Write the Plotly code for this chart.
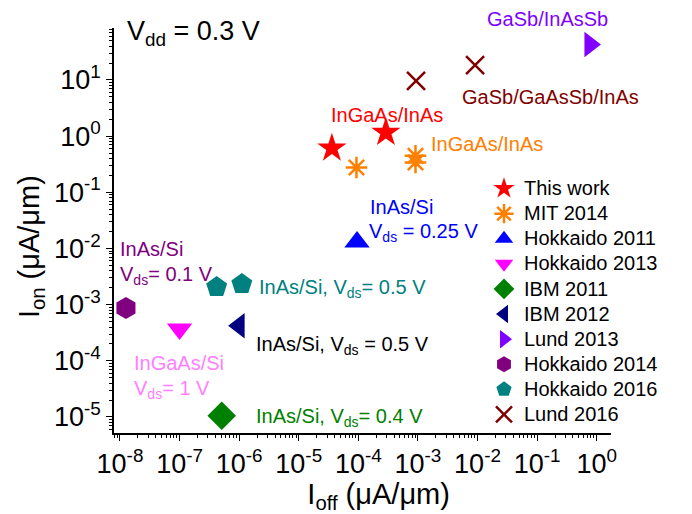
import plotly.graph_objects as go

# ---------------- data ----------------
series_names = ["This work", "MIT 2014", "Hokkaido 2011", "Hokkaido 2013", "IBM 2011",
                "IBM 2012", "Lund 2013", "Hokkaido 2014", "Hokkaido 2016", "Lund 2016"]

ioff_this_work = [3.6e-5, 2.9e-4]
ion_this_work = [0.61, 1.16]
ioff_mit_2014 = [9.3e-5, 9.1e-4, 9.1e-4]
ion_mit_2014 = [0.277, 0.447, 0.34]
ioff_hokkaido_2011 = [9.5e-5]
ion_hokkaido_2011 = [0.013]
ioff_hokkaido_2013 = [1.0e-7]
ion_hokkaido_2013 = [3.7e-4]
ioff_ibm_2011 = [5.1e-7]
ion_ibm_2011 = [1.05e-5]
ioff_ibm_2012 = [1.0e-6]
ion_ibm_2012 = [4.2e-4]
ioff_lund_2013 = [0.77]
ion_lund_2013 = [42.8]
ioff_hokkaido_2014 = [1.26e-8]
ion_hokkaido_2014 = [8.7e-4]
ioff_hokkaido_2016 = [4.2e-7, 1.11e-6]
ion_hokkaido_2016 = [2.06e-3, 2.33e-3]
ioff_lund_2016 = [9.3e-4, 9.1e-3]
ion_lund_2016 = [9.6, 18.3]

x_tick_vals = [1e-8, 1e-7, 1e-6, 1e-5, 1e-4, 1e-3, 1e-2, 1e-1, 1e0]
x_tick_text = ["10<sup>-8</sup>", "10<sup>-7</sup>", "10<sup>-6</sup>", "10<sup>-5</sup>",
               "10<sup>-4</sup>", "10<sup>-3</sup>", "10<sup>-2</sup>", "10<sup>-1</sup>", "10<sup>0</sup>"]
y_tick_vals = [1e-5, 1e-4, 1e-3, 1e-2, 1e-1, 1e0, 1e1]
y_tick_text = ["10<sup>-5</sup>", "10<sup>-4</sup>", "10<sup>-3</sup>", "10<sup>-2</sup>",
               "10<sup>-1</sup>", "10<sup>0</sup>", "10<sup>1</sup>"]

label_texts = ["V<sub>dd</sub> = 0.3 V", "InGaAs/InAs", "InGaAs/InAs", "GaSb/GaAsSb/InAs",
               "GaSb/InAsSb", "InAs/Si", "V<sub>ds</sub> = 0.25 V", "InAs/Si", "V<sub>ds</sub>= 0.1 V",
               "InAs/Si, V<sub>ds</sub>= 0.5 V", "InAs/Si, V<sub>ds</sub> = 0.5 V", "InGaAs/Si",
               "V<sub>ds</sub>= 1 V", "InAs/Si, V<sub>ds</sub>= 0.4 V"]

x_title = "I<sub>off</sub> (μA/μm)"
y_title = "I<sub>on</sub> (μA/μm)"

# ---------------- styling ----------------
FONT = "Arial, Liberation Sans, sans-serif"
OFF = 8                      # default body margin of the html page
W, H = 692 - OFF, 514 - OFF  # figure size so that it fits the window exactly
# plot area in window (screen) pixels
L, R, T, B = 114, 611, 28, 433
NB = "\u00a0"
ZW = "\u200b"


def px(x):
    return (x - L) / (R - L)


def py(y):
    return (B - y) / (B - T)


xs = [ioff_this_work, ioff_mit_2014, ioff_hokkaido_2011, ioff_hokkaido_2013, ioff_ibm_2011,
      ioff_ibm_2012, ioff_lund_2013, ioff_hokkaido_2014, ioff_hokkaido_2016, ioff_lund_2016]
ys = [ion_this_work, ion_mit_2014, ion_hokkaido_2011, ion_hokkaido_2013, ion_ibm_2011,
      ion_ibm_2012, ion_lund_2013, ion_hokkaido_2014, ion_hokkaido_2016, ion_lund_2016]
symbols = ["star", "asterisk-open", "triangle-up", "triangle-down", "diamond",
           "triangle-left", "triangle-right", "hexagon", "pentagon", "x-thin-open"]
colors = ["#ff0000", "#ff8000", "#0000ff", "#ff00ff", "#008000",
          "#000080", "#8000ff", "#800080", "#008080", "#800000"]
sizes = [22, 18, 22, 22, 22, 22, 22, 22, 22, 18]

fig = go.Figure()
for name, x, y, sym, col, sz in zip(series_names, xs, ys, symbols, colors, sizes):
    open_sym = sym.endswith("open")
    fig.add_trace(go.Scatter(
        x=x, y=y, mode="markers",
        name='<span style="font-size:20px">' + name + "</span>",
        marker=dict(symbol=sym, size=sz, color=col,
                    line=dict(color=col, width=2.5 if open_sym else 0)),
    ))

label_pos = [(126, 33, 27), (330, 115, 20), (430, 144, 20), (461, 97, 20), (486, 19, 20),
             (369, 207, 20), (368, 232, 20), (119, 249, 20), (119, 275, 20), (258, 288, 20),
             (255, 345, 20), (133, 363, 20), (133, 389, 20), (255, 417, 20)]
label_colors = ["#000000", "#ff0000", "#ff8000", "#800000", "#8000ff", "#0000ff", "#0000ff",
                "#800080", "#800080", "#008080", "#000000", "#ff80ff", "#ff80ff", "#008000"]

annotations = []
for txt, (ax, ay, fs), col in zip(label_texts, label_pos, label_colors):
    annotations.append(dict(x=px(ax), y=py(ay), xref="paper", yref="paper",
                            xanchor="left", yanchor="middle", showarrow=False, borderpad=0,
                            text=txt, font=dict(family=FONT, size=fs, color=col)))

x_minor = [k * 10.0 ** e for e in range(-9, 1) for k in range(2, 10)]
y_minor = [k * 10.0 ** e for e in range(-6, 2) for k in range(2, 10)]

axis_common = dict(
    type="log", showgrid=False, zeroline=False, showline=True, linecolor="#000000",
    linewidth=1.5, ticks="outside", ticklen=6, tickwidth=1.3, tickcolor="#000000",
    tickfont=dict(family=FONT, size=27, color="black"), automargin=False,
)

fig.update_layout(
    width=W, height=H,
    margin=dict(l=L - OFF, r=W - (R - OFF), t=T - OFF, b=H - (B - OFF), pad=0, autoexpand=False),
    paper_bgcolor="white", plot_bgcolor="white",
    font=dict(family=FONT, color="black"),
    showlegend=True,
    legend=dict(x=px(484), y=py(171), xanchor="left", yanchor="top",
                font=dict(family=FONT, size=17, color="black"),
                bgcolor="rgba(0,0,0,0)", borderwidth=0, itemsizing="trace"),
    xaxis=dict(axis_common, range=[-8.10, 0.24], tickvals=x_tick_vals, ticktext=x_tick_text,
               minor=dict(tickvals=x_minor, ticks="outside", ticklen=3.5, tickwidth=1,
                          tickcolor="black", showgrid=False),
               title=dict(text=ZW + NB * 4 + x_title, font=dict(family=FONT, size=29),
                          standoff=4)),
    yaxis=dict(axis_common, range=[-5.285, 1.925], tickvals=y_tick_vals, ticktext=y_tick_text,
               minor=dict(tickvals=y_minor, ticks="outside", ticklen=3.5, tickwidth=1,
                          tickcolor="black", showgrid=False),
               title=dict(text=y_title + NB * 4 + ZW, font=dict(family=FONT, size=29),
                          standoff=6)),
    annotations=annotations,
)

fig.write_html("out.html")
